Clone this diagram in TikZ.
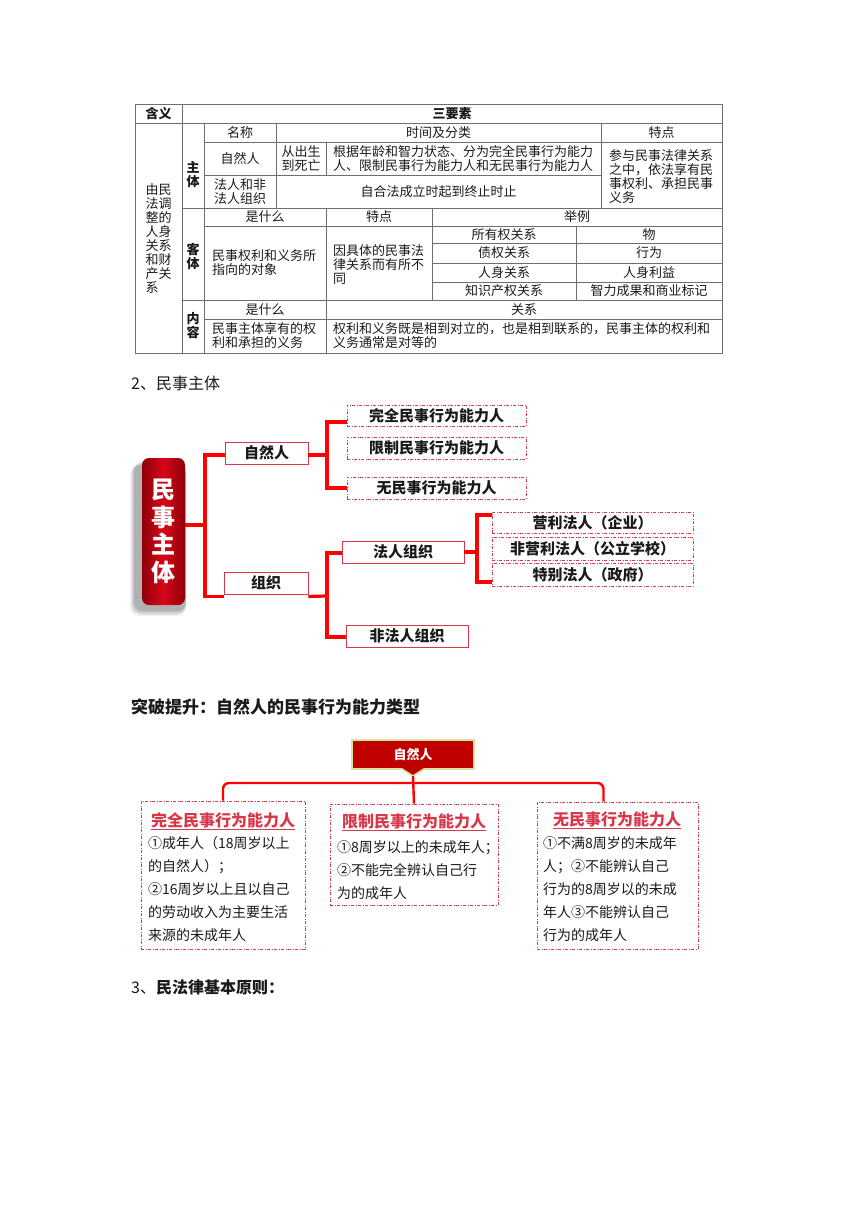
\documentclass[tikz,border=0pt]{standalone}
\usepackage{fontspec}
\setmainfont{Noto Sans CJK SC}
\usetikzlibrary{calc}
\definecolor{tline}{HTML}{6E6E6E}
\definecolor{redline}{HTML}{FF0000}
\definecolor{boxred}{HTML}{D8384A}
\definecolor{darkred}{HTML}{C00000}
\definecolor{bannerborder}{HTML}{D6E3A2}
\definecolor{txt}{HTML}{1A1A1A}
\definecolor{bigmid}{HTML}{D8061A}
\definecolor{bigedge}{HTML}{8E0008}
\begin{document}
\begin{tikzpicture}[x=1pt,y=-1pt,
 grid/.style={draw=tline, line width=0.7pt},
 tt/.style={font=\fontsize{13}{14}\selectfont, text=txt, inner sep=0pt, align=center},
 ttb/.style={tt, font=\fontsize{13}{14}\selectfont\bfseries},
 ttl/.style={tt, anchor=west, align=left},
 trunk/.style={draw=redline, line width=3.2pt},
 conn/.style={draw=redline, line width=2.4pt},
 solidbox/.style={draw=boxred, line width=0.9pt, fill=white, font=\fontsize{15}{16}\selectfont\bfseries, text=txt, inner sep=0pt},
 dashbox/.style={solidbox, dash pattern=on 3pt off 1.5pt on 1pt off 1.5pt},
 infobox/.style={draw=boxred, line width=0.9pt, dash pattern=on 3pt off 1.5pt on 1pt off 1.5pt, fill=white, inner sep=0pt},
 ititle/.style={font=\fontsize{16}{18}\selectfont\bfseries, text=boxred, inner sep=0pt},
 ibody/.style={font=\fontsize{14}{23}\selectfont, text=txt, inner sep=0pt, align=left, anchor=north west},
 head/.style={font=\fontsize{16}{18}\selectfont, text=txt, inner sep=0pt, anchor=west}
]
\useasboundingbox (0,0) rectangle (860,1216);
% ---------------- table ----------------
\draw[grid] (135,104) rectangle (722,353);
\draw[grid] (135,123) -- (722,123);
\draw[grid] (182,104) -- (182,353);
\draw[grid] (204,123) -- (204,353);
\draw[grid] (204,142) -- (722,142);
\draw[grid] (204,175) -- (601,175);
\draw[grid] (182,208) -- (722,208);
\draw[grid] (276,123) -- (276,208);
\draw[grid] (326,142) -- (326,175);
\draw[grid] (601,123) -- (601,208);
\draw[grid] (204,226) -- (722,226);
\draw[grid] (326,208) -- (326,300);
\draw[grid] (432,208) -- (432,300);
\foreach \yy in {243,263,282} \draw[grid] (432,\yy) -- (722,\yy);
\draw[grid] (576,226) -- (576,300);
\draw[grid] (182,300) -- (722,300);
\draw[grid] (204,319) -- (722,319);
\draw[grid] (326,300) -- (326,353);

\node[ttb] (t01) at (158.5,113.5) {含义};
\node[ttb] (t02) at (452,113.5) {三要素};
\node[tt, align=left] (t03) at (158.5,238) {由民\\法调\\整的\\人身\\关系\\和财\\产关\\系};
\node[ttb] (t04) at (193,175) {主\\体};
\node[ttb] (t05) at (193,256) {客\\体};
\node[ttb] (t06) at (193,326) {内\\容};
\node[tt] (t07) at (240,132.5) {名称};
\node[tt] (t08) at (438.5,132.5) {时间及分类};
\node[tt] (t09) at (661.5,132.5) {特点};
\node[tt] (t10) at (240,158.5) {自然人};
\node[tt] (t11) at (301,158.5) {从出生\\到死亡};
\node[ttl] (t12) at (333,158.5) {根据年龄和智力状态、分为完全民事行为能力\\人、限制民事行为能力人和无民事行为能力人};
\node[ttl] (t13) at (609,177) {参与民事法律关系\\之中，依法享有民\\事权利、承担民事\\义务};
\node[tt] (t14) at (240,191.5) {法人和非\\法人组织};
\node[tt] (t15) at (438.5,191.5) {自合法成立时起到终止时止};
\node[tt] (t16) at (265,217) {是什么};
\node[tt] (t17) at (379,217) {特点};
\node[tt] (t18) at (577,217) {举例};
\node[ttl] (t19) at (212,263) {民事权利和义务所\\指向的对象};
\node[ttl] (t20) at (333,265) {因具体的民事法\\律关系而有所不\\同};
\node[tt] (t21) at (504,234.5) {所有权关系};
\node[tt] (t22) at (649,234.5) {物};
\node[tt] (t23) at (504,253) {债权关系};
\node[tt] (t24) at (649,253) {行为};
\node[tt] (t25) at (504,272.5) {人身关系};
\node[tt] (t26) at (649,272.5) {人身利益};
\node[tt] (t27) at (504,291) {知识产权关系};
\node[tt] (t28) at (649,291) {智力成果和商业标记};
\node[tt] (t29) at (265,309.5) {是什么};
\node[tt] (t30) at (524,309.5) {关系};
\node[ttl] (t31) at (212,336) {民事主体享有的权\\利和承担的义务};
\node[ttl] (t32) at (333,336) {权利和义务既是相到对立的，也是相到联系的，民事主体的权利和\\义务通常是对等的};

% ---------------- section 2 ----------------
\node[head] (h2) at (131,383) {2、民事主体};

% big box with soft shadow
\foreach \k/\op in {0/0.05,1/0.06,2/0.07,3/0.08,4/0.09}
  \fill[black, opacity=\op, rounded corners=9pt] (130+\k,466-\k) rectangle (186,616-\k*1.2);
\node[rounded corners=7pt, minimum width=43pt, minimum height=147pt, inner sep=0pt,
      left color=bigedge, right color=bigedge, middle color=bigmid,
      text=white, font=\fontsize{24}{27.5}\selectfont\bfseries, align=center]
      (mszt) at (163.5,531.5) {民\\事\\主\\体};

\node[solidbox, minimum width=83pt, minimum height=22pt] (zrr) at (266.5,453) {自然人};
\node[solidbox, minimum width=84pt, minimum height=22pt] (zz) at (266,583) {组织};
\node[dashbox, minimum width=179pt, minimum height=21pt] (wq) at (436.5,415.5) {完全民事行为能力人};
\node[dashbox, minimum width=179pt, minimum height=22pt] (xz) at (436.5,448) {限制民事行为能力人};
\node[dashbox, minimum width=179pt, minimum height=22pt] (wm) at (436.5,488) {无民事行为能力人};
\node[solidbox, minimum width=122pt, minimum height=22pt] (fr) at (403,552) {法人组织};
\node[solidbox, minimum width=122pt, minimum height=22pt] (ffr) at (407,636) {非法人组织};
\node[dashbox, minimum width=201pt, minimum height=21pt] (yl) at (592.5,522.5) {营利法人（企业）};
\node[dashbox, minimum width=201pt, minimum height=23pt] (fyl) at (592.5,548.5) {非营利法人（公立学校）};
\node[dashbox, minimum width=201pt, minimum height=23pt] (tb) at (592.5,574.5) {特别法人（政府）};

\coordinate (j0) at (205,525);
\coordinate (j1) at (327,455);
\coordinate (j2) at (327,596);
\coordinate (j3) at (477,552);
\draw[trunk] (j0 -| mszt.east) -- (j0);
\draw[trunk] ($(zrr.west)+(0,2)$) -| (j0);
\draw[trunk] ($(zz.south west)+(0,2)$) -| (j0);
\draw[trunk] ($(zrr.east)+(0,2)$) -- (j1);
\draw[trunk] ($(wq.west)+(0,6.5)$) -| (j1) |- (wm.west);
\draw[trunk] ($(zz.south east)+(0,2)$) -- (j2);
\draw[trunk] ($(fr.west)+(0,1)$) -| (j2) |- ($(ffr.west)+(0,1)$);
\draw[trunk] (fr.east) -- (j3);
\draw[trunk] ($(yl.west)+(0,-7.5)$) -| (j3) |- ($(tb.west)+(0,7.5)$);

% ---------------- section: 突破提升 ----------------
\node[head, font=\fontsize{17}{19}\selectfont\bfseries] (h3) at (131,707) {突破提升：自然人的民事行为能力类型};

\draw[fill=darkred, draw=bannerborder, line width=1.6pt]
  (352,740) -- (474,740) -- (474,769) -- (424,769) -- (413,776) -- (402,769) -- (352,769) -- cycle;
\node[font=\fontsize{13}{14}\selectfont\bfseries, text=white, inner sep=0pt] (ban) at (413,754.5) {自然人};
\coordinate (bantip) at (413,776);
\coordinate (hub) at (413,783);

\node[infobox, minimum width=164pt, minimum height=148pt] (full) at (223,875) {};
\node[infobox, minimum width=168pt, minimum height=101pt] (limit) at (414,854.5) {};
\node[infobox, minimum width=161pt, minimum height=147pt] (none) at (617.5,875.5) {};

\draw[conn, rounded corners=6pt] (full.north) |- (hub) -| ($(none.north)+(-14,0)$);
\draw[conn] (limit.north) -- (bantip);

\node[ititle] (ft) at (223,821) {\underline{完全民事行为能力人}};
\node[ibody] (fb) at (148,836) {①成年人（18周岁以上\\的自然人）；\\②16周岁以上且以自己\\的劳动收入为主要生活\\来源的未成年人};
\node[ititle] (lt) at (414,822) {\underline{限制民事行为能力人}};
\node[ibody] (lb) at (337,840) {①8周岁以上的未成年人；\\②不能完全辨认自己行\\为的成年人};
\node[ititle] (nt) at (617,820) {\underline{无民事行为能力人}};
\node[ibody] (nb) at (543,836) {①不满8周岁的未成年\\人；②不能辨认自己\\行为的8周岁以的未成\\年人③不能辨认自己\\行为的成年人};

% ---------------- section 3 ----------------
\node[head] (h4) at (131,987) {3、{\bfseries 民法律基本原则：}};
\end{tikzpicture}
\end{document}
